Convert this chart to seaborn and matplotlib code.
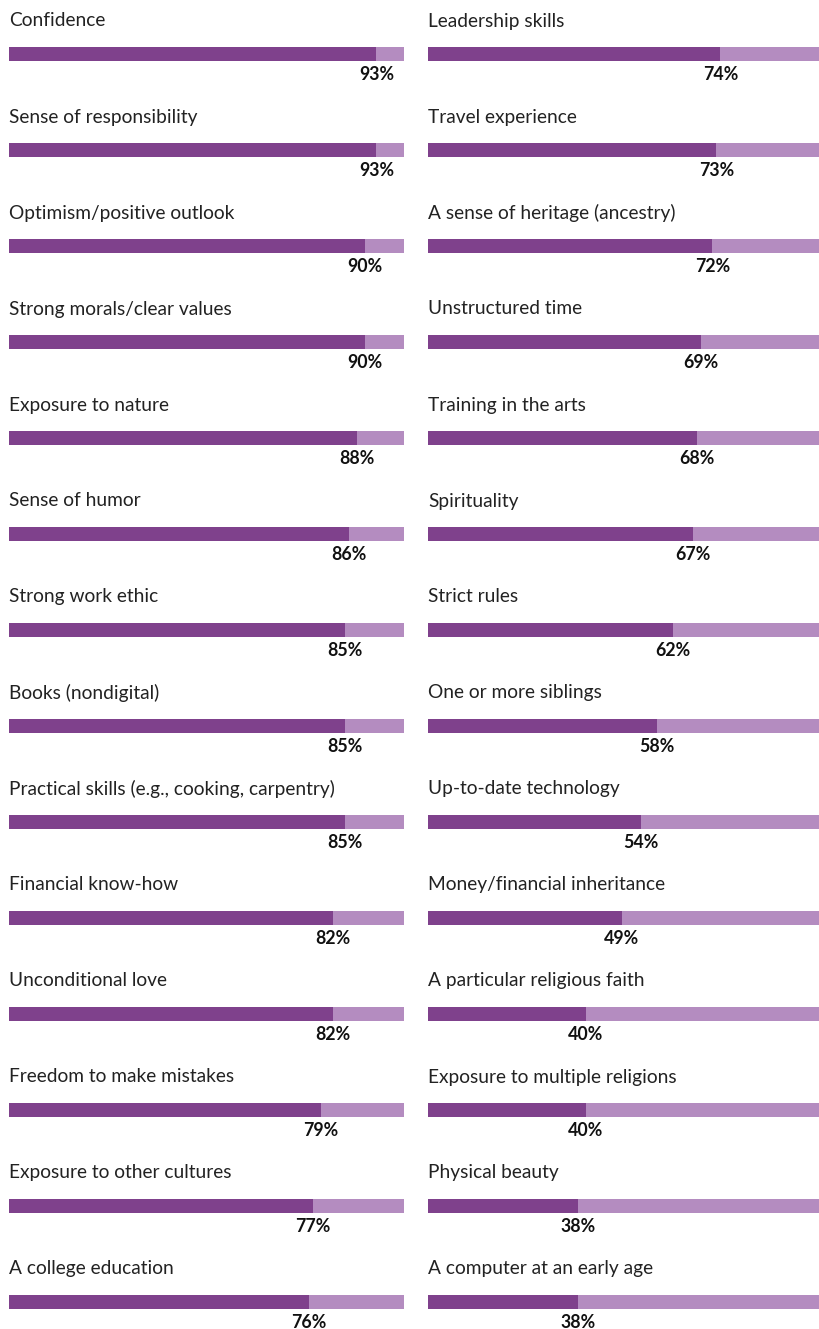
import matplotlib
matplotlib.use("Agg")
import matplotlib.pyplot as plt
import seaborn as sns
import pandas as pd

left_labels = ["Confidence", "Sense of responsibility", "Optimism/positive outlook",
               "Strong morals/clear values", "Exposure to nature", "Sense of humor",
               "Strong work ethic", "Books (nondigital)",
               "Practical skills (e.g., cooking, carpentry)", "Financial know-how",
               "Unconditional love", "Freedom to make mistakes",
               "Exposure to other cultures", "A college education"]
left_values = [93, 93, 90, 90, 88, 86, 85, 85, 85, 82, 82, 79, 77, 76]

right_labels = ["Leadership skills", "Travel experience", "A sense of heritage (ancestry)",
                "Unstructured time", "Training in the arts", "Spirituality", "Strict rules",
                "One or more siblings", "Up-to-date technology",
                "Money/financial inheritance", "A particular religious faith",
                "Exposure to multiple religions", "Physical beauty",
                "A computer at an early age"]
right_values = [74, 73, 72, 69, 68, 67, 62, 58, 54, 49, 40, 40, 38, 38]

DARK = "#7f418c"
LIGHT = "#b48cc0"
FONT = ["Lato", "DejaVu Sans"]

sns.set_theme(style="white")
plt.rcParams['font.family'] = FONT

W, H = 819, 1329
fig = plt.figure(figsize=(W / 100, H / 100), dpi=100)

row_px = 96.0
first_center = 54.0
y_top = -first_center / row_px
y_bot = (H - first_center) / row_px

def draw(ax, labels, values):
    n = len(labels)
    df = pd.DataFrame({"label": labels, "value": values, "full": [100] * n})
    sns.barplot(data=df, y="label", x="full", orient="h", color=LIGHT,
                width=14 / row_px, saturation=1, ax=ax, linewidth=0)
    sns.barplot(data=df, y="label", x="value", orient="h", color=DARK,
                width=14 / row_px, saturation=1, ax=ax, linewidth=0)
    ax.set_xlim(0, 100)
    ax.set_ylim(y_bot, y_top)
    ax.axis("off")
    for i, (lab, v) in enumerate(zip(labels, values)):
        ax.text(0, i - 33 / row_px, lab, ha="left", va="center",
                fontsize=13.8, color="#222222", clip_on=False)
        ax.text(v, i + 21 / row_px, f"{v}%", ha="center", va="center",
                fontsize=12.8, fontweight="bold", color="#111111")

axL = fig.add_axes([9 / W, 0, 395 / W, 1])
axR = fig.add_axes([428 / W, 0, 395 / W, 1])
draw(axL, left_labels, left_values)
draw(axR, right_labels, right_values)

fig.savefig("out.png", dpi=100, facecolor="white")
